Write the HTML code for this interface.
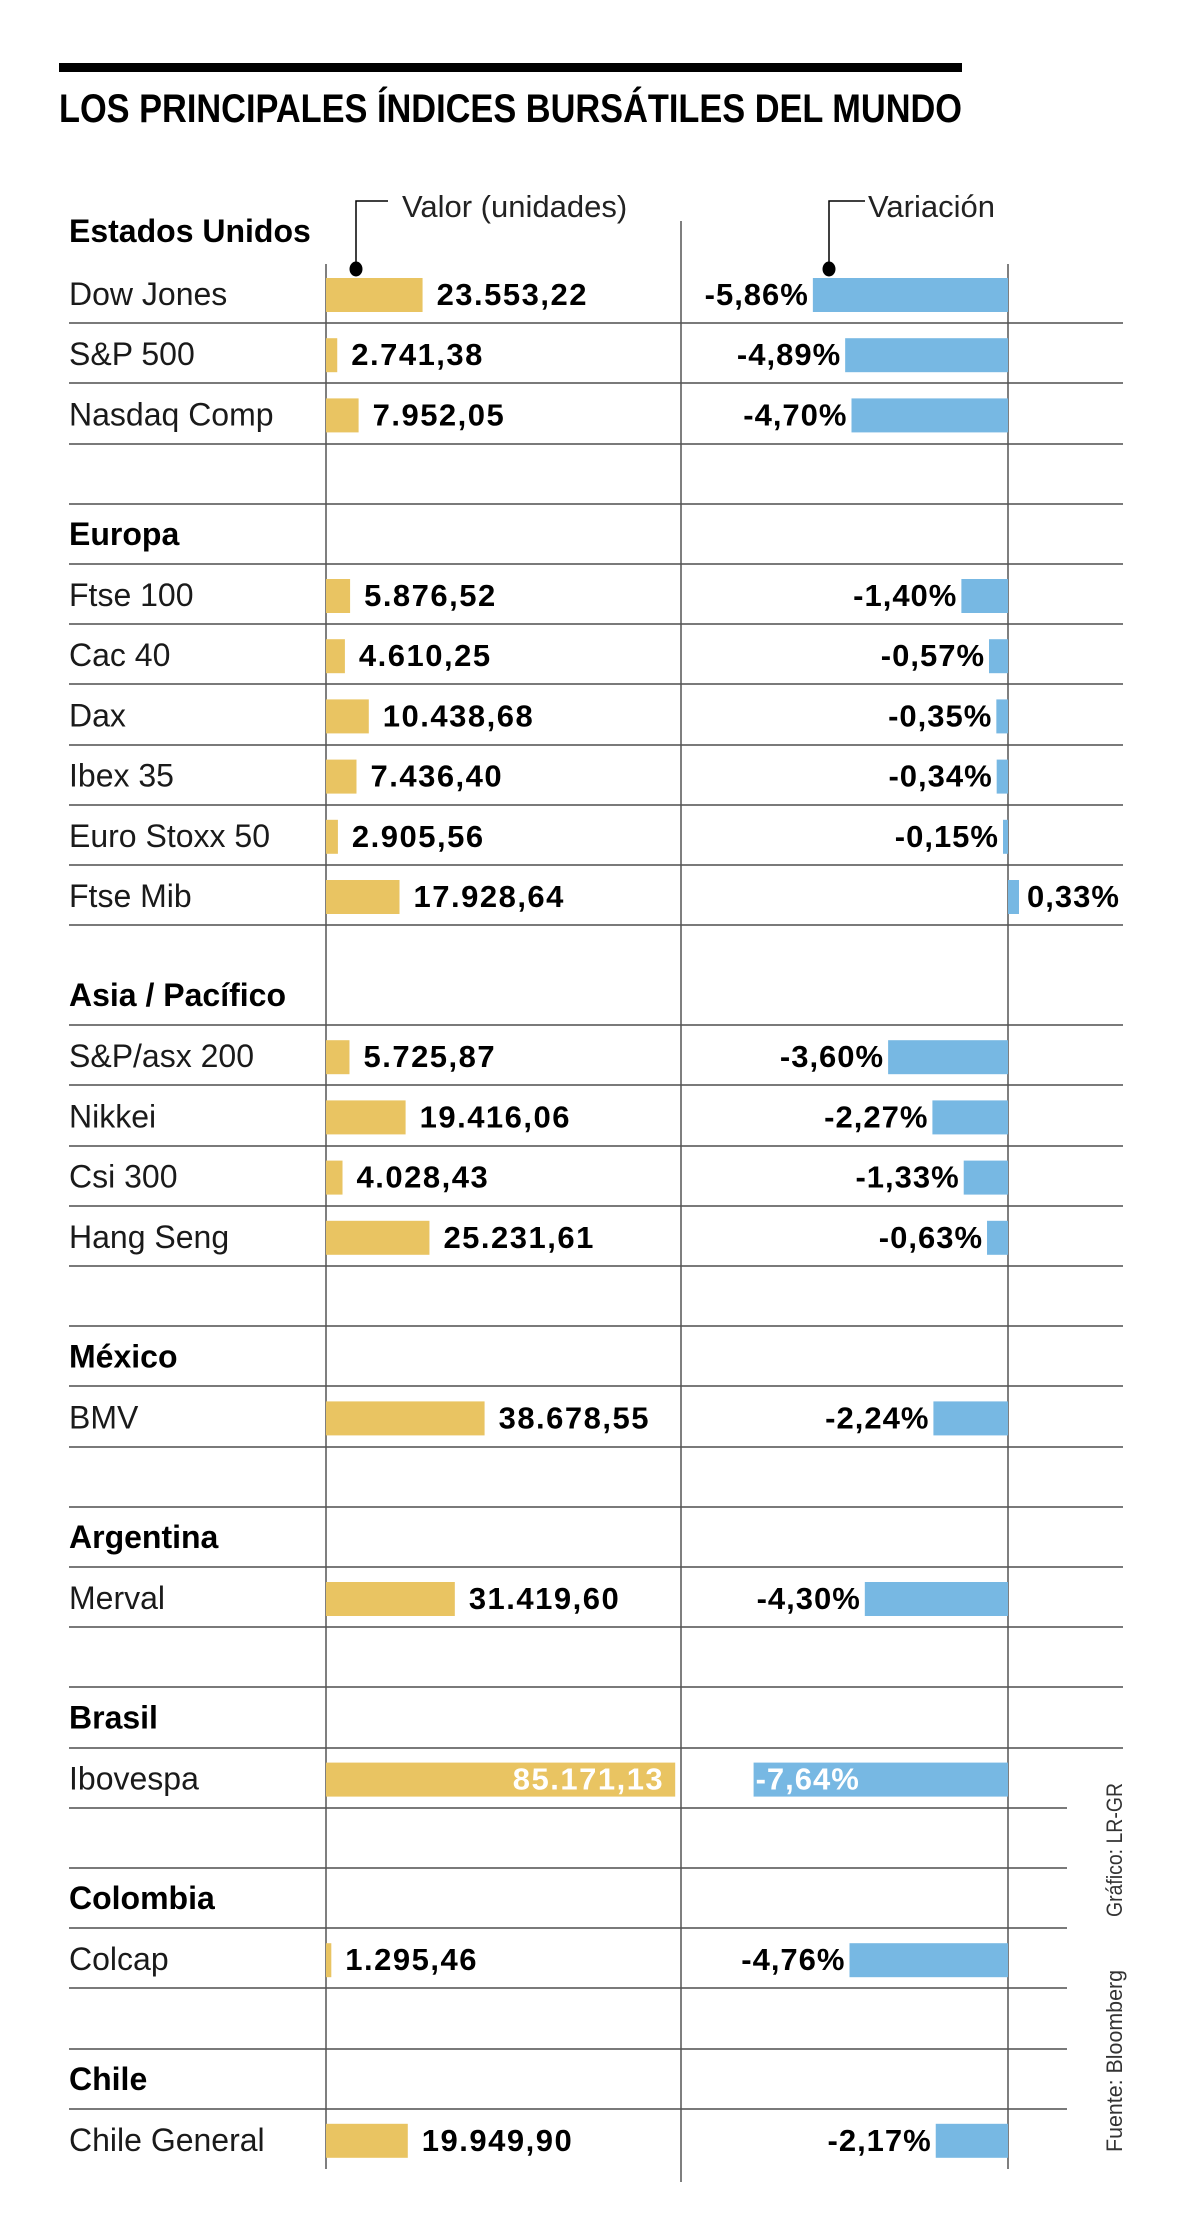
<!DOCTYPE html>
<html><head><meta charset="utf-8"><style>
html,body{margin:0;padding:0;background:#fff;}
svg{display:block;}
text{font-family:"Liberation Sans",sans-serif;}
</style></head><body>
<svg id="chart" width="1200" height="2239" viewBox="0 0 1200 2239" xmlns="http://www.w3.org/2000/svg">
<rect x="59" y="63" width="903" height="9" fill="#000"/>
<text x="59" y="122" font-size="40" font-weight="bold" textLength="903" lengthAdjust="spacingAndGlyphs" fill="#000">LOS PRINCIPALES ÍNDICES BURSÁTILES DEL MUNDO</text>
<g id="grid"></g>
<g id="rows"></g>
<g>
<polyline points="388,201 356,201 356,265" fill="none" stroke="#000" stroke-width="1.5"/>
<ellipse cx="356" cy="269" rx="6.5" ry="7.5" fill="#000"/>
<text x="402" y="217" font-size="31" fill="#222">Valor (unidades)</text>
</g>
<g>
<polyline points="865,201 829,201 829,265" fill="none" stroke="#000" stroke-width="1.5"/>
<ellipse cx="829" cy="269" rx="6.5" ry="7.5" fill="#000"/>
<text x="868" y="217" font-size="31" fill="#222">Variación</text>
</g>
<text transform="translate(1122,1917) rotate(-90)" font-size="22" fill="#333" textLength="134" lengthAdjust="spacingAndGlyphs">Gráfico: LR-GR</text>
<text transform="translate(1122,2152) rotate(-90)" font-size="22" fill="#333" textLength="182" lengthAdjust="spacingAndGlyphs">Fuente: Bloomberg</text>
</svg>
<script>
// row sequence: 'h' = region header, 'r' = index row, 'b' = blank
const rowKinds = ['r','r','r','b','h','r','r','r','r','r','r','H','r','r','r','r','b','h','r','b','h','r','b','h','r','b','h','r','b','h','r'];
const headers = ['Estados Unidos','Europa','Asia / Pacífico','México','Argentina','Brasil','Colombia','Chile'];
const indexNames = ['Dow Jones','S&P 500','Nasdaq Comp','Ftse 100','Cac 40','Dax','Ibex 35','Euro Stoxx 50','Ftse Mib','S&P/asx 200','Nikkei','Csi 300','Hang Seng','BMV','Merval','Ibovespa','Colcap','Chile General'];
const indexValues = [23553.22,2741.38,7952.05,5876.52,4610.25,10438.68,7436.40,2905.56,17928.64,5725.87,19416.06,4028.43,25231.61,38678.55,31419.60,85171.13,1295.46,19949.90];
const valueLabels = ['23.553,22','2.741,38','7.952,05','5.876,52','4.610,25','10.438,68','7.436,40','2.905,56','17.928,64','5.725,87','19.416,06','4.028,43','25.231,61','38.678,55','31.419,60','85.171,13','1.295,46','19.949,90'];
const variations = [-5.86,-4.89,-4.70,-1.40,-0.57,-0.35,-0.34,-0.15,0.33,-3.60,-2.27,-1.33,-0.63,-2.24,-4.30,-7.64,-4.76,-2.17];

const NS='http://www.w3.org/2000/svg';
const X0=326, XMID=681, XV=1008;
const xVal = v => v*0.0041;        // px width for index value
const xVar = p => Math.abs(p)*33.3; // px width for % variation
function mk(tag, attrs, parent){const e=document.createElementNS(NS,tag);for(const k in attrs)e.setAttribute(k,attrs[k]);parent.appendChild(e);return e;}
const grid=document.getElementById('grid'), rows=document.getElementById('rows');

// Estados Unidos header above first slot
let hi=0;
let t=mk('text',{x:69,y:242,'font-size':32,'font-weight':'bold',fill:'#000'},rows);
t.textContent=headers[hi++];



let y=263, ii=0;
const lineYs=[];
rowKinds.forEach((k,n)=>{
  const h = (k==='H')?100:60.2;
  if(k==='h'||k==='H'){
    const tx=mk('text',{x:69,y:(y+h-19),'font-size':32,'font-weight':'bold',fill:'#000'},rows);
    tx.textContent=headers[hi++];
    
    
  } else if(k==='r'){
    const g=mk('g',{},rows);
    
    
    const lab=mk('text',{x:69,y:y+42,'font-size':32,fill:'#1a1a1a'},g);
    lab.textContent=indexNames[ii];
    
    
    const w=xVal(indexValues[ii]);
    const b=mk('rect',{x:X0,y:y+15,width:w,height:34,fill:'#E9C462'},g);
    
    
    const inside = X0+w+15+150 > XMID;
    const vt=mk('text',{x: inside? X0+w-11 : X0+w+14, y:y+42,'font-size':31,'font-weight':'bold','letter-spacing':1.5,fill: inside?'#fff':'#000','text-anchor': inside?'end':'start'},g);
    vt.textContent=valueLabels[ii];
    
    
    const p=variations[ii], pw=xVar(p);
    const bx = p<0 ? XV-pw : XV;
    const vb=mk('rect',{x:bx,y:y+15,width:pw,height:34,fill:'#77B8E3'},g);
    
    
    const ptxt=(p<0?'-':'')+Math.abs(p).toFixed(2).replace('.',',')+'%';
    let pt;
    if(p>=0) pt=mk('text',{x:XV+pw+8,y:y+42,'font-size':31,'font-weight':'bold','letter-spacing':1,fill:'#000'},g);
    else if(bx-120 < XMID) pt=mk('text',{x:bx+2,y:y+42,'font-size':31,'font-weight':'bold','letter-spacing':1,fill:'#fff'},g);
    else pt=mk('text',{x:bx-4,y:y+42,'font-size':31,'font-weight':'bold','letter-spacing':1,fill:'#000','text-anchor':'end'},g);
    pt.textContent=ptxt;
    
    
    ii++;
  }
  y+=h;
  if(n<rowKinds.length-1) lineYs.push(Math.round(y));
});
const yEnd=Math.round(y);
lineYs.forEach(ly=>{
  const l=mk('line',{x1:69,x2:(ly>1760?1067:1123),y1:ly,y2:ly,stroke:'#7a7a7a','stroke-width':2},grid);
  
  
});
[[X0,264,yEnd],[XMID,221,yEnd+13],[XV,264,yEnd]].forEach(a=>{
  const l=mk('line',{x1:a[0],x2:a[0],y1:a[1],y2:a[2],stroke:'#555','stroke-width':1.5},grid);
  
  
});
</script>
</body></html>
